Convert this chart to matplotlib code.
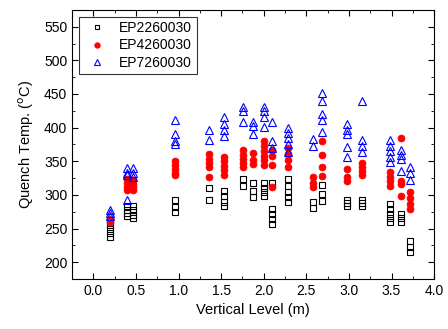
import matplotlib
matplotlib.use('Agg')
import matplotlib.pyplot as plt
from matplotlib.ticker import MultipleLocator

plt.rcParams['font.family'] = ['Liberation Sans', 'DejaVu Sans']

# (x, y) readings per series
sq_x = [0.2, 0.2, 0.2, 0.2, 0.2,
        0.4, 0.4, 0.4, 0.4,
        0.47, 0.47, 0.47, 0.47,
        0.96, 0.96, 0.96,
        1.36, 1.36,
        1.53, 1.53, 1.53, 1.53,
        1.76, 1.76,
        1.87, 1.87, 1.87,
        2.0, 2.0, 2.0, 2.0,
        2.1, 2.1, 2.1, 2.1, 2.1,
        2.28, 2.28, 2.28, 2.28, 2.28,
        2.58, 2.58,
        2.68, 2.68, 2.68,
        2.98, 2.98, 2.98,
        3.15, 3.15, 3.15,
        3.48, 3.48, 3.48, 3.48, 3.48,
        3.61, 3.61, 3.61,
        3.72, 3.72, 3.72]
sq_y = [261, 255, 249, 243, 238,
        284, 278, 273, 269,
        283, 277, 270, 265,
        292, 282, 274,
        310, 293,
        306, 298, 290, 283,
        323, 313,
        318, 306, 297,
        317, 310, 304, 298,
        318, 279, 272, 264, 257,
        323, 313, 305, 297, 289,
        290, 281,
        315, 301, 291,
        293, 288, 283,
        293, 288, 284,
        286, 279, 272, 265, 259,
        272, 265, 260,
        231, 222, 215]

ci_x = [0.2, 0.2,
        0.4, 0.4, 0.4, 0.4,
        0.47, 0.47, 0.47, 0.47,
        0.96, 0.96, 0.96, 0.96, 0.96,
        1.36, 1.36, 1.36, 1.36, 1.36,
        1.53, 1.53, 1.53, 1.53, 1.53,
        1.76, 1.76, 1.76, 1.76, 1.76,
        1.87, 1.87, 1.87,
        2.0, 2.0, 2.0, 2.0, 2.0, 2.0,
        2.1, 2.1, 2.1, 2.1,
        2.28, 2.28, 2.28, 2.28,
        2.58, 2.58, 2.58,
        2.68, 2.68, 2.68, 2.68,
        2.98, 2.98, 2.98,
        3.15, 3.15, 3.15, 3.15,
        3.48, 3.48, 3.48, 3.48,
        3.61, 3.61, 3.61, 3.61,
        3.72, 3.72, 3.72, 3.72]
ci_y = [264, 259,
        323, 317, 311, 307,
        322, 316, 311, 307,
        350, 344, 338, 333, 329,
        361, 354, 348, 342, 327,
        357, 350, 343, 337, 330,
        366, 360, 354, 348, 342,
        363, 352, 346,
        380, 372, 365, 358, 352, 345,
        367, 358, 344, 312,
        370, 361, 352, 342,
        326, 318, 311,
        380, 360, 342, 328,
        339, 326, 320,
        348, 341, 335, 330,
        334, 327, 320, 313,
        384, 320, 316, 298,
        304, 296, 287, 279]

tr_x = [0.2, 0.2, 0.2,
        0.4, 0.4, 0.4, 0.4,
        0.47, 0.47, 0.47,
        0.96, 0.96, 0.96, 0.96,
        1.36, 1.36,
        1.53, 1.53, 1.53, 1.53,
        1.76, 1.76, 1.76,
        1.87, 1.87, 1.87,
        2.0, 2.0, 2.0, 2.0,
        2.1, 2.1, 2.1,
        2.28, 2.28, 2.28, 2.28, 2.28,
        2.58, 2.58,
        2.68, 2.68, 2.68, 2.68, 2.68,
        2.98, 2.98, 2.98, 2.98, 2.98,
        3.15, 3.15, 3.15, 3.15,
        3.48, 3.48, 3.48, 3.48, 3.48,
        3.61, 3.61, 3.61, 3.61,
        3.72, 3.72, 3.72]
tr_y = [278, 273, 268,
        340, 333, 329, 292,
        340, 333, 327,
        412, 391, 380, 376,
        397, 381,
        416, 405, 397, 388,
        431, 425, 409,
        409, 402, 391,
        431, 424, 416, 401,
        408, 380, 370,
        399, 392, 385, 376, 364,
        383, 372,
        451, 440, 420, 412, 394,
        405, 397, 390, 371, 357,
        440, 381, 373, 364,
        382, 373, 365, 357, 349,
        367, 360, 354, 335,
        342, 332, 322]

fig = plt.figure(figsize=(4.48, 3.29), dpi=100)
ax = fig.add_axes([0.161, 0.152, 0.808, 0.818])

ax.plot(sq_x, sq_y, 's', ms=4.3, mfc='none', mec='black', mew=0.8, label='EP2260030')
ax.plot(ci_x, ci_y, 'o', ms=5, mfc='red', mec='red', mew=0.5, label='EP4260030')
ax.plot(tr_x, tr_y, '^', ms=5.5, mfc='none', mec='blue', mew=0.8, label='EP7260030')

ax.set_xlim(-0.25, 4.0)
ax.set_ylim(175, 575)
ax.xaxis.set_minor_locator(MultipleLocator(0.25))
ax.yaxis.set_minor_locator(MultipleLocator(25))
ax.set_xticks([0, 0.5, 1, 1.5, 2, 2.5, 3, 3.5, 4])
ax.set_xticklabels(['0.0', '0.5', '1.0', '1.5', '2.0', '2.5', '3.0', '3.5', '4.0'])
ax.set_yticks([200, 250, 300, 350, 400, 450, 500, 550])
ax.tick_params(which='both', direction='in', top=True, right=True, labelsize=10)
ax.tick_params(which='major', length=4)
ax.tick_params(which='minor', length=2)

ax.set_xlabel('Vertical Level (m)', fontsize=10.5)
ax.set_ylabel('Quench Temp. ($^{\\rm o}$C)', fontsize=10.5, labelpad=6)

leg = ax.legend(loc='upper left', fontsize=10, frameon=True, fancybox=False,
                edgecolor='black', borderaxespad=0.5, handletextpad=0.6,
                labelspacing=0.25, borderpad=0.3, numpoints=1, markerscale=0.8)
leg.get_frame().set_linewidth(0.8)

fig.savefig('out.png', dpi=100)
